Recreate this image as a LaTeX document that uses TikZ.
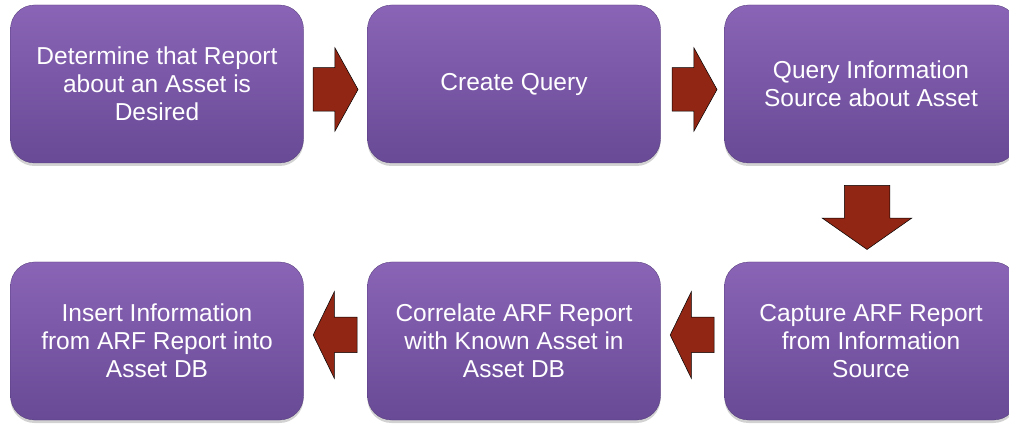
\documentclass[tikz,border=0pt]{standalone}
\usepackage{fontspec}
\setmainfont{Liberation Sans}
\usetikzlibrary{shapes.arrows,shadows,calc}
\definecolor{boxtop}{RGB}{138,100,182}
\definecolor{boxbot}{RGB}{104,74,150}
\definecolor{arrowred}{RGB}{146,38,20}
\tikzset{
  stepbox/.style={rectangle, rounded corners=24pt, minimum width=293pt, minimum height=158pt,
    align=center, text=white, top color=boxtop, bottom color=boxbot,
    draw=boxbot!80!black, line width=0.3pt,
    drop shadow={shadow xshift=0pt, shadow yshift=-3pt, opacity=0.35},
    font=\fontsize{24.5}{28}\selectfont},
  blockarrow/.style={single arrow, fill=arrowred, draw=black, line width=0.5pt,
    inner xsep=0pt, outer sep=0pt}
}
\begin{document}
\begin{tikzpicture}[x=1pt,y=1pt]
\useasboundingbox[fill=white] (0,0) rectangle (1009,423);
\node[stepbox] (b1) at (157,339) {Determine that Report\\about an Asset is\\Desired};
\node[stepbox] (b2) at (514,339) {Create Query};
\node[stepbox] (b3) at (871,339) {Query Information\\Source about Asset};
\node[stepbox] (b4) at (871,82) {Capture ARF Report\\from Information\\Source};
\node[stepbox] (b5) at (514,82) {Correlate ARF Report\\with Known Asset in\\Asset DB};
\node[stepbox] (b6) at (157,82) {Insert Information\\from ARF Report into\\Asset DB};
% connectors
\node[blockarrow, inner ysep=21.5pt, single arrow head extend=20pt, minimum height=45pt,
  single arrow tip angle=122] (a1) at ($(b1.east)!0.5!(b2.west)+(-6,-5.5)$) {};
\node[blockarrow, inner ysep=21.5pt, single arrow head extend=20pt, minimum height=45pt,
  single arrow tip angle=122] (a2) at ($(b2.east)!0.5!(b3.west)+(-4,-5.5)$) {};
\node[blockarrow, inner ysep=22.5pt, single arrow head extend=22pt, minimum height=64pt,
  single arrow tip angle=110, rotate=-90] (a3) at ($(b3.south)!0.5!(b4.north)+(-4,3)$) {};
\node[blockarrow, inner ysep=17.5pt, single arrow head extend=25.5pt, minimum height=44pt,
  single arrow tip angle=128, rotate=180] (a4) at ($(b5.east)!0.5!(b4.west)+(4,6)$) {};
\node[blockarrow, inner ysep=17.5pt, single arrow head extend=25.5pt, minimum height=44pt,
  single arrow tip angle=128, rotate=180] (a5) at ($(b6.east)!0.5!(b5.west)+(4,6)$) {};
\end{tikzpicture}
\end{document}
